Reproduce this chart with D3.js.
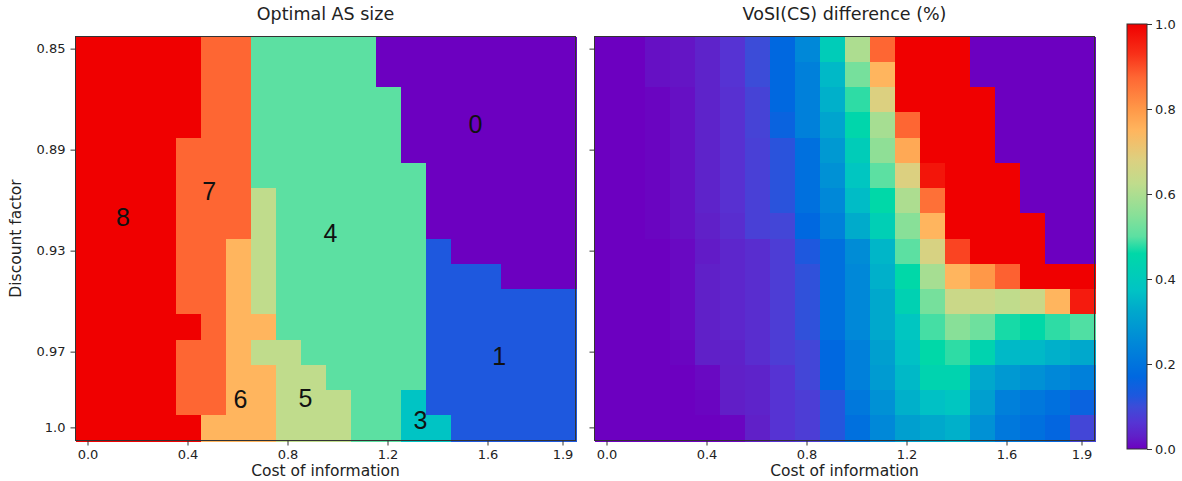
<!DOCTYPE html>
<html lang="en">
<head>
<meta charset="utf-8">
<title>Optimal AS size / VoSI(CS) difference</title>
<script src="https://cdn.jsdelivr.net/npm/d3@7"></script>
<style>
body { margin: 0; background: #fff; }
text { font-family: "DejaVu Sans", sans-serif; fill: #222; }
.axis path { display: none; }
.axis line { stroke: #333; }
.axis text { font-size: 13px; fill: #222; }
.frame { fill: none; stroke: #333; stroke-width: 1; }
.cell { shape-rendering: crispEdges; }
</style>
</head>
<body>
<script>

// grid axes
var costs = [0.0, 0.1, 0.2, 0.3, 0.4, 0.5, 0.6, 0.7, 0.8, 0.9, 1.0, 1.1, 1.2, 1.3, 1.4, 1.5, 1.6, 1.7, 1.8, 1.9];
var discounts = [0.85, 0.86, 0.87, 0.88, 0.89, 0.90, 0.91, 0.92, 0.93, 0.94, 0.95, 0.96, 0.97, 0.98, 0.99, 1.00];

var xTicks = [0.0, 0.4, 0.8, 1.2, 1.6, 1.9];
var xTickLabels = ["0.0", "0.4", "0.8", "1.2", "1.6", "1.9"];
var yTicks = [0.85, 0.89, 0.93, 0.97, 1.00];
var yTickLabels = ["0.85", "0.89", "0.93", "0.97", "1.0"];
var cbTicks = [0.0, 0.2, 0.4, 0.6, 0.8, 1.0];
var cbTickLabels = ["0.0", "0.2", "0.4", "0.6", "0.8", "1.0"];

// optimal AS size, one row per discount factor (0.85 at top)
var optimalSize = [
  [8,8,8,8,8,7,7,4,4,4,4,4,0,0,0,0,0,0,0,0],
  [8,8,8,8,8,7,7,4,4,4,4,4,0,0,0,0,0,0,0,0],
  [8,8,8,8,8,7,7,4,4,4,4,4,4,0,0,0,0,0,0,0],
  [8,8,8,8,8,7,7,4,4,4,4,4,4,0,0,0,0,0,0,0],
  [8,8,8,8,7,7,7,4,4,4,4,4,4,0,0,0,0,0,0,0],
  [8,8,8,8,7,7,7,4,4,4,4,4,4,4,0,0,0,0,0,0],
  [8,8,8,8,7,7,7,5,4,4,4,4,4,4,0,0,0,0,0,0],
  [8,8,8,8,7,7,7,5,4,4,4,4,4,4,0,0,0,0,0,0],
  [8,8,8,8,7,7,6,5,4,4,4,4,4,4,1,0,0,0,0,0],
  [8,8,8,8,7,7,6,5,4,4,4,4,4,4,1,1,1,0,0,0],
  [8,8,8,8,7,7,6,5,4,4,4,4,4,4,1,1,1,1,1,1],
  [8,8,8,8,8,7,6,6,4,4,4,4,4,4,1,1,1,1,1,1],
  [8,8,8,8,7,7,6,5,5,4,4,4,4,4,1,1,1,1,1,1],
  [8,8,8,8,7,7,6,6,5,5,4,4,4,4,1,1,1,1,1,1],
  [8,8,8,8,7,7,6,6,5,5,5,4,4,3,1,1,1,1,1,1],
  [8,8,8,8,8,6,6,6,5,5,5,4,4,3,3,1,1,1,1,1]
];
var maxSize = 8;

// labels written on the regions (cost, discount)
var sizeLabels = [
  {text: "0", cost: 1.55, discount: 0.8795},
  {text: "8", cost: 0.14, discount: 0.9165},
  {text: "7", cost: 0.485, discount: 0.906},
  {text: "4", cost: 0.97, discount: 0.923},
  {text: "1", cost: 1.645, discount: 0.9715},
  {text: "6", cost: 0.61, discount: 0.9885},
  {text: "5", cost: 0.87, discount: 0.988},
  {text: "3", cost: 1.33, discount: 0.997}
];

// VoSI(CS) difference, same layout
var vosiDiff = [
  [0, 0, 0.015, 0.02, 0.035, 0.06, 0.1, 0.17, 0.25, 0.41, 0.6, 0.875, 1, 1, 1, 0, 0, 0, 0, 0],
  [0, 0, 0.015, 0.02, 0.035, 0.06, 0.1, 0.17, 0.23, 0.355, 0.53, 0.75, 1, 1, 1, 0, 0, 0, 0, 0],
  [0, 0, 0.005, 0.015, 0.035, 0.055, 0.085, 0.17, 0.23, 0.34, 0.48, 0.68, 1, 1, 1, 1, 0, 0, 0, 0],
  [0, 0, 0.005, 0.015, 0.035, 0.055, 0.085, 0.155, 0.23, 0.315, 0.45, 0.59, 0.875, 1, 1, 1, 0, 0, 0, 0],
  [0, 0, 0.005, 0.015, 0.035, 0.055, 0.08, 0.115, 0.19, 0.29, 0.41, 0.56, 0.77, 1, 1, 1, 0, 0, 0, 0],
  [0, 0, 0.005, 0.015, 0.035, 0.055, 0.08, 0.115, 0.19, 0.27, 0.385, 0.5, 0.68, 0.97, 1, 1, 1, 0, 0, 0],
  [0, 0, 0.005, 0.015, 0.035, 0.055, 0.08, 0.115, 0.19, 0.25, 0.36, 0.46, 0.6, 0.86, 1, 1, 1, 0, 0, 0],
  [0, 0, 0.005, 0.015, 0.03, 0.05, 0.08, 0.09, 0.17, 0.23, 0.33, 0.42, 0.55, 0.75, 1, 1, 1, 1, 0, 0],
  [0, 0, 0, 0.008, 0.025, 0.04, 0.05, 0.075, 0.125, 0.19, 0.26, 0.35, 0.5, 0.67, 0.91, 1, 1, 1, 0, 0],
  [0, 0, 0, 0.008, 0.03, 0.04, 0.05, 0.075, 0.11, 0.19, 0.25, 0.34, 0.46, 0.59, 0.75, 0.8, 0.88, 1, 1, 1],
  [0, 0, 0, 0.008, 0.03, 0.04, 0.05, 0.075, 0.11, 0.19, 0.25, 0.325, 0.43, 0.53, 0.645, 0.645, 0.625, 0.645, 0.75, 0.96],
  [0, 0, 0, 0.008, 0.03, 0.04, 0.05, 0.075, 0.11, 0.19, 0.25, 0.325, 0.385, 0.49, 0.55, 0.52, 0.47, 0.46, 0.48, 0.495],
  [0, 0, 0, 0.005, 0.03, 0.032, 0.05, 0.075, 0.09, 0.17, 0.23, 0.305, 0.37, 0.46, 0.48, 0.44, 0.355, 0.355, 0.34, 0.325],
  [0, 0, 0, 0, 0.008, 0.03, 0.035, 0.06, 0.09, 0.17, 0.23, 0.295, 0.355, 0.44, 0.44, 0.325, 0.29, 0.27, 0.25, 0.23],
  [0, 0, 0, 0, 0.005, 0.028, 0.035, 0.06, 0.075, 0.12, 0.21, 0.27, 0.34, 0.37, 0.385, 0.305, 0.23, 0.21, 0.19, 0.155],
  [0, 0, 0, 0, 0, 0.005, 0.03, 0.06, 0.075, 0.12, 0.19, 0.25, 0.305, 0.325, 0.34, 0.27, 0.21, 0.19, 0.165, 0.09]
];

// rainbow-like colour map, as it looks in the picture
var cmapStops = [0, 0.03, 0.0625, 0.1, 0.125, 0.17, 0.25, 0.325, 0.375, 0.46, 0.5, 0.55, 0.625, 0.68, 0.75, 0.8, 0.875, 0.93, 1];
var cmapColors = ["#6c00c0", "#6020c8", "#5535d4", "#3c4cd8", "#1e58de", "#0068e0", "#0088d8", "#00a8cc", "#00c4c4",
                  "#00d8a8", "#5ce0a2", "#88e098", "#c0dc8c", "#dcd080", "#ffb55e", "#ff9848", "#fe6633", "#f83018", "#f00000"];
var color = d3.scaleLinear().domain(cmapStops).range(cmapColors).interpolate(d3.interpolateRgb).clamp(true);

var w = 1182, h = 481;
var top_y = 36.5, panel_w = 500, panel_h = 404;

var svg = d3.select("body").append("svg")
  .attr("width", w)
  .attr("height", h);

function drawPanel(x0, title, grid, cellColor, showYLabels) {
  var xScale = d3.scaleBand().domain(costs).range([x0, x0 + panel_w]);
  var yScale = d3.scaleBand().domain(discounts).range([top_y, top_y + panel_h]);

  var g = svg.append("g");

  var cells = [];
  grid.forEach(function(row, i) {
    row.forEach(function(v, j) {
      cells.push({cost: costs[j], discount: discounts[i], value: v});
    });
  });

  g.selectAll("rect.cell")
    .data(cells)
    .enter()
    .append("rect")
    .attr("class", "cell")
    .attr("x", function(d) { return xScale(d.cost); })
    .attr("y", function(d) { return yScale(d.discount); })
    .attr("width", xScale.bandwidth() + 1)
    .attr("height", yScale.bandwidth() + 1)
    .attr("fill", function(d) { return cellColor(d.value); });

  g.append("rect")
    .attr("class", "frame")
    .attr("x", x0)
    .attr("y", top_y)
    .attr("width", panel_w)
    .attr("height", panel_h);

  var xAxis = d3.axisBottom(xScale)
    .tickValues(xTicks)
    .tickFormat(function(d, i) { return xTickLabels[i]; })
    .tickSize(5)
    .tickPadding(4);

  g.append("g")
    .attr("class", "axis")
    .attr("transform", "translate(0," + (top_y + panel_h) + ")")
    .call(xAxis);

  var yAxis = d3.axisLeft(yScale)
    .tickValues(yTicks)
    .tickFormat(function(d, i) { return showYLabels ? yTickLabels[i] : ""; })
    .tickSize(5)
    .tickPadding(5);

  g.append("g")
    .attr("class", "axis")
    .attr("transform", "translate(" + x0 + ",0)")
    .call(yAxis);

  g.append("text")
    .attr("x", x0 + panel_w / 2)
    .attr("y", 20)
    .attr("text-anchor", "middle")
    .style("font-size", "17.5px")
    .text(title);

  g.append("text")
    .attr("x", x0 + panel_w / 2)
    .attr("y", 476)
    .attr("text-anchor", "middle")
    .style("font-size", "15.5px")
    .text("Cost of information");

  return {
    x: d3.scaleLinear().domain([-0.05, 1.95]).range([x0, x0 + panel_w]),
    y: d3.scaleLinear().domain([0.845, 1.005]).range([top_y, top_y + panel_h])
  };
}

var left = drawPanel(75.5, "Optimal AS size", optimalSize,
  function(v) { return color(v / maxSize); }, true);

svg.append("g").selectAll("text")
  .data(sizeLabels)
  .enter()
  .append("text")
  .attr("x", function(d) { return left.x(d.cost); })
  .attr("y", function(d) { return left.y(d.discount); })
  .attr("text-anchor", "middle")
  .attr("dominant-baseline", "central")
  .style("font-family", "'Liberation Sans', sans-serif")
  .style("font-size", "25px")
  .style("fill", "#111")
  .text(function(d) { return d.text; });

svg.append("text")
  .attr("transform", "translate(21," + (top_y + panel_h / 2) + ") rotate(-90)")
  .attr("text-anchor", "middle")
  .style("font-size", "15.5px")
  .text("Discount factor");

drawPanel(594.5, "VoSI(CS) difference (%)", vosiDiff, color, false);

//Colorbar
var cb_x = 1127, cb_top = 24, cb_bottom = 449, cb_w = 20;

var grad = svg.append("defs").append("linearGradient")
  .attr("id", "cbgrad")
  .attr("x1", 0).attr("y1", 1)
  .attr("x2", 0).attr("y2", 0);

grad.selectAll("stop")
  .data(cmapStops)
  .enter()
  .append("stop")
  .attr("offset", function(d) { return d; })
  .attr("stop-color", function(d, i) { return cmapColors[i]; });

svg.append("rect")
  .attr("x", cb_x)
  .attr("y", cb_top)
  .attr("width", cb_w)
  .attr("height", cb_bottom - cb_top)
  .attr("fill", "url(#cbgrad)")
  .attr("stroke", "#333");

var cbScale = d3.scaleLinear().domain([0, 1]).range([cb_bottom, cb_top]);

svg.append("g")
  .attr("class", "axis")
  .attr("transform", "translate(" + (cb_x + cb_w) + ",0)")
  .call(d3.axisRight(cbScale)
    .tickValues(cbTicks)
    .tickFormat(function(d, i) { return cbTickLabels[i]; })
    .tickSize(5)
    .tickPadding(3));

</script>
</body>
</html>
